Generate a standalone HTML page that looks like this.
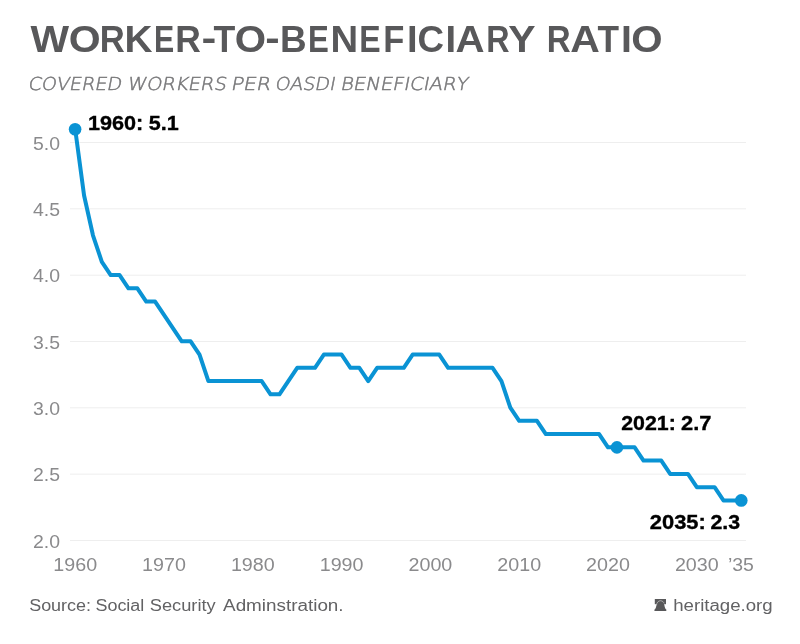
<!DOCTYPE html>
<html><head><meta charset="utf-8">
<title>Worker-to-Beneficiary Ratio</title>
<style>
html,body{margin:0;padding:0;background:#fff;}
body{width:800px;height:644px;overflow:hidden;}
svg{display:block;will-change:transform;}
text{font-kerning:none;}
.t{font-family:"Liberation Sans",Arial,sans-serif;}
.d{font-family:"DejaVu Sans","Liberation Sans",sans-serif;}
</style></head>
<body>
<svg width="800" height="644" viewBox="0 0 800 644">
<rect width="800" height="644" fill="#fff"/>
<text class="t" font-size="37.2" font-weight="700" fill="#58585a"><tspan x="30.46" y="51.90" textLength="38.58" lengthAdjust="spacingAndGlyphs">W</tspan><tspan x="68.82" y="51.90" textLength="31.90" lengthAdjust="spacingAndGlyphs">O</tspan><tspan x="99.68" y="51.90" textLength="25.03" lengthAdjust="spacingAndGlyphs">R</tspan><tspan x="124.41" y="51.90" textLength="27.95" lengthAdjust="spacingAndGlyphs">K</tspan><tspan x="153.97" y="51.90" textLength="20.21" lengthAdjust="spacingAndGlyphs">E</tspan><tspan x="175.13" y="51.90" textLength="25.60" lengthAdjust="spacingAndGlyphs">R</tspan><tspan x="201.46" y="49.90" textLength="14.82" lengthAdjust="spacingAndGlyphs">-</tspan><tspan x="213.60" y="51.90" textLength="21.78" lengthAdjust="spacingAndGlyphs">T</tspan><tspan x="234.85" y="51.90" textLength="31.35" lengthAdjust="spacingAndGlyphs">O</tspan><tspan x="265.31" y="49.90" textLength="14.43" lengthAdjust="spacingAndGlyphs">-</tspan><tspan x="280.03" y="51.90" textLength="26.64" lengthAdjust="spacingAndGlyphs">B</tspan><tspan x="307.91" y="51.90" textLength="20.81" lengthAdjust="spacingAndGlyphs">E</tspan><tspan x="330.44" y="51.90" textLength="27.64" lengthAdjust="spacingAndGlyphs">N</tspan><tspan x="359.35" y="51.90" textLength="21.40" lengthAdjust="spacingAndGlyphs">E</tspan><tspan x="383.19" y="51.90" textLength="21.07" lengthAdjust="spacingAndGlyphs">F</tspan><tspan x="406.95" y="51.90" textLength="10.61" lengthAdjust="spacingAndGlyphs">I</tspan><tspan x="417.49" y="51.90" textLength="26.51" lengthAdjust="spacingAndGlyphs">C</tspan><tspan x="445.45" y="51.90" textLength="10.61" lengthAdjust="spacingAndGlyphs">I</tspan><tspan x="455.50" y="51.90" textLength="29.06" lengthAdjust="spacingAndGlyphs">A</tspan><tspan x="486.34" y="51.90" textLength="23.32" lengthAdjust="spacingAndGlyphs">R</tspan><tspan x="508.30" y="51.90" textLength="27.36" lengthAdjust="spacingAndGlyphs">Y</tspan> <tspan x="546.79" y="51.90" textLength="23.89" lengthAdjust="spacingAndGlyphs">R</tspan><tspan x="570.23" y="51.90" textLength="29.60" lengthAdjust="spacingAndGlyphs">A</tspan><tspan x="597.60" y="51.90" textLength="21.52" lengthAdjust="spacingAndGlyphs">T</tspan><tspan x="621.13" y="51.90" textLength="10.90" lengthAdjust="spacingAndGlyphs">I</tspan><tspan x="631.35" y="51.90" textLength="31.35" lengthAdjust="spacingAndGlyphs">O</tspan></text>
<text class="d" transform="translate(0 90.4) skewX(-11)" y="0" font-size="17.8" font-weight="200" fill="#78787a" stroke="#78787a" stroke-width="0.5"><tspan x="27.41" textLength="93.58" lengthAdjust="spacingAndGlyphs">COVERED</tspan> <tspan x="126.65" textLength="99.14" lengthAdjust="spacingAndGlyphs">WORKERS</tspan> <tspan x="230.49" textLength="39.61" lengthAdjust="spacingAndGlyphs">PER</tspan> <tspan x="274.46" textLength="60.08" lengthAdjust="spacingAndGlyphs">OASDI</tspan> <tspan x="339.89" textLength="127.57" lengthAdjust="spacingAndGlyphs">BENEFICIARY</tspan></text>
<g fill="#eeeeee">
<rect x="70" y="142.00" width="676" height="1"/>
<rect x="70" y="208.33" width="676" height="1"/>
<rect x="70" y="274.67" width="676" height="1"/>
<rect x="70" y="341.00" width="676" height="1"/>
<rect x="70" y="407.33" width="676" height="1"/>
<rect x="70" y="473.66" width="676" height="1"/>
<rect x="70" y="540.00" width="676" height="1"/>
</g>
<g class="t" font-size="18" fill="#8a8a8c">
<text x="33" y="149.6" textLength="27" lengthAdjust="spacingAndGlyphs">5.0</text>
<text x="33" y="215.9" textLength="27" lengthAdjust="spacingAndGlyphs">4.5</text>
<text x="33" y="282.3" textLength="27" lengthAdjust="spacingAndGlyphs">4.0</text>
<text x="33" y="348.6" textLength="27" lengthAdjust="spacingAndGlyphs">3.5</text>
<text x="33" y="414.9" textLength="27" lengthAdjust="spacingAndGlyphs">3.0</text>
<text x="33" y="481.3" textLength="27" lengthAdjust="spacingAndGlyphs">2.5</text>
<text x="33" y="547.6" textLength="27" lengthAdjust="spacingAndGlyphs">2.0</text>
</g>
<g class="t" font-size="18" fill="#8a8a8c" text-anchor="middle">
<text x="75.2" y="571" textLength="43.8" lengthAdjust="spacingAndGlyphs">1960</text>
<text x="164.0" y="571" textLength="43.8" lengthAdjust="spacingAndGlyphs">1970</text>
<text x="252.8" y="571" textLength="43.8" lengthAdjust="spacingAndGlyphs">1980</text>
<text x="341.6" y="571" textLength="43.8" lengthAdjust="spacingAndGlyphs">1990</text>
<text x="430.4" y="571" textLength="43.8" lengthAdjust="spacingAndGlyphs">2000</text>
<text x="519.2" y="571" textLength="43.8" lengthAdjust="spacingAndGlyphs">2010</text>
<text x="608.0" y="571" textLength="43.8" lengthAdjust="spacingAndGlyphs">2020</text>
<text x="696.8" y="571" textLength="43.8" lengthAdjust="spacingAndGlyphs">2030</text>
<text x="740.9" y="571" textLength="26" lengthAdjust="spacingAndGlyphs">’35</text>
</g>
<path d="M75.20 129.25 L84.08 195.52 L92.96 235.29 L101.84 261.80 L110.72 275.05 L119.60 275.05 L128.48 288.31 L137.36 288.31 L146.24 301.56 L155.12 301.56 L181.76 341.33 L190.64 341.33 L199.52 354.58 L208.40 381.09 L261.68 381.09 L270.56 394.35 L279.44 394.35 L297.20 367.84 L314.96 367.84 L323.84 354.58 L341.60 354.58 L350.48 367.84 L359.36 367.84 L368.24 381.09 L377.12 367.84 L403.76 367.84 L412.64 354.58 L439.28 354.58 L448.16 367.84 L492.56 367.84 L501.44 381.09 L510.32 407.60 L519.20 420.86 L536.96 420.86 L545.84 434.11 L599.12 434.11 L608.00 447.37 L634.64 447.37 L643.52 460.62 L661.28 460.62 L670.16 473.88 L687.92 473.88 L696.80 487.13 L714.56 487.13 L723.44 500.39 L741.20 500.39" fill="none" stroke="#0a93d4" stroke-width="4" stroke-linejoin="round" stroke-linecap="round"/>
<g fill="#0a93d4">
<circle cx="75.1" cy="129.2" r="6.3"/>
<circle cx="616.95" cy="447.4" r="6.3"/>
<circle cx="741.25" cy="500.45" r="6.35"/>
</g>
<g class="t" font-size="20.5" font-weight="700" fill="#000" stroke="#000" stroke-width="0.35">
<text y="130"><tspan x="88.04" textLength="55.29" lengthAdjust="spacingAndGlyphs">1960:</tspan> <tspan x="148.74" textLength="29.96" lengthAdjust="spacingAndGlyphs">5.1</tspan></text>
<text y="430"><tspan x="621.16" textLength="54.65" lengthAdjust="spacingAndGlyphs">2021:</tspan> <tspan x="681.14" textLength="30.42" lengthAdjust="spacingAndGlyphs">2.7</tspan></text>
<text y="529"><tspan x="649.84" textLength="56.02" lengthAdjust="spacingAndGlyphs">2035:</tspan> <tspan x="710.51" textLength="29.66" lengthAdjust="spacingAndGlyphs">2.3</tspan></text>
</g>
<text class="t" y="610.7" font-size="16" fill="#626264"><tspan x="29.18" textLength="61.85" lengthAdjust="spacingAndGlyphs">Source:</tspan> <tspan x="95.44" textLength="48.86" lengthAdjust="spacingAndGlyphs">Social</tspan> <tspan x="149.77" textLength="65.86" lengthAdjust="spacingAndGlyphs">Security</tspan> <tspan x="223.06" textLength="120.56" lengthAdjust="spacingAndGlyphs">Adminstration.</tspan></text>
<g fill="#58585a">
<rect x="654.8" y="599" width="11.2" height="5.2"/>
<path d="M654.4 611 L654.5 609.5 C655.5 609 656.1 607.6 656.4 605.2 C656.8 602.2 658.4 600.9 660.4 600.7 C662.4 600.9 664 602.2 664.4 605.2 C664.7 607.6 665.3 609 666.3 609.5 L666.3 611 Z"/>
</g>
<path d="M656.4 605.4 C656.8 602.2 658.4 600.9 660.4 600.7 C662.4 600.9 663.6 601.9 664.1 603.4" fill="none" stroke="#c4c4c4" stroke-width="0.75"/>
<text class="t" y="611" font-size="16" fill="#626264"><tspan x="673.21" textLength="99.49" lengthAdjust="spacingAndGlyphs">heritage.org</tspan></text>
</svg>
</body></html>
